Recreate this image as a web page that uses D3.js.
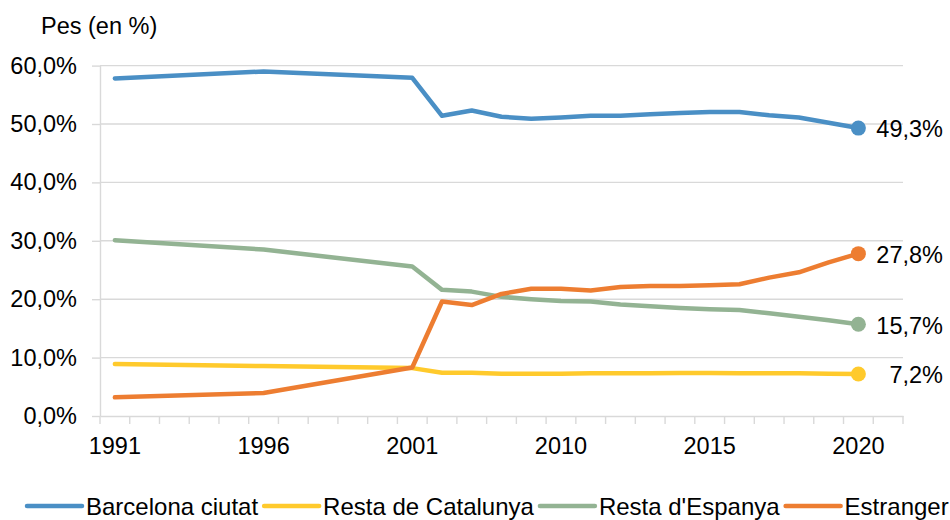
<!DOCTYPE html>
<html><head><meta charset="utf-8">
<script src="https://cdn.jsdelivr.net/npm/d3@7/dist/d3.min.js"></script>
<style>
body{margin:0;background:#fff}
svg text{font-family:"Liberation Sans",Arial,sans-serif;fill:#000}
</style>
</head><body>
<svg id="c" width="950" height="520"></svg>
<script>
const categories = ["1991","1992","1993","1994","1995","1996","1997","1998","1999","2000","2001",
  "2006","2007","2008","2009","2010","2011","2012","2013","2014","2015","2016","2017","2018","2019","2020","2021"];
const tickLabels = ["1991","1996","2001","2010","2015","2020"];
const yTicks = [0,10,20,30,40,50,60];
const seriesNames = ["Barcelona ciutat","Resta de Catalunya","Resta d'Espanya","Estranger"];
const barcelona = [57.8,null,null,null,null,59.0,null,null,null,null,57.9,51.4,52.3,51.25,50.9,51.1,51.4,51.4,51.65,51.9,52.05,52.05,51.5,51.1,50.2,49.3,null];
const catalunya = [8.9,null,null,null,null,8.55,null,null,null,null,8.2,7.4,7.4,7.25,7.25,7.25,7.3,7.3,7.3,7.35,7.35,7.3,7.3,7.3,7.25,7.2,null];
const espanya = [30.1,null,null,null,null,28.5,null,null,null,null,25.6,21.6,21.3,20.4,20.0,19.7,19.6,19.1,18.8,18.5,18.3,18.15,17.6,17.0,16.4,15.7,null];
const estranger = [3.2,null,null,null,null,3.95,null,null,null,null,8.3,19.6,19.0,20.9,21.8,21.8,21.5,22.1,22.25,22.25,22.4,22.55,23.7,24.6,26.3,27.8,null];
const colors = ["#4a8fc5","#ffca2c","#93b393","#ed7d31"];

const seriesVals = [barcelona, catalunya, espanya, estranger];
const svg = d3.select("#c");
const FS = "23.5px";
const gridColor = "#d9d9d9";

const x = d3.scaleBand().domain(categories).range([100,903]).padding(0);
const y = d3.scaleLinear().domain([0,60]).range([416,65.6]);
const fmt = v => d3.format(".1f")(v).replace(".", ",") + "%";

// gridlines
svg.append("g").selectAll("line").data(yTicks.filter(d=>d>0)).join("line")
  .attr("x1",100).attr("x2",903).attr("y1",d=>y(d)).attr("y2",d=>y(d))
  .attr("stroke",gridColor).attr("stroke-width",1.4);

// y axis
const ya = svg.append("g").attr("transform","translate(100,0)")
  .call(d3.axisLeft(y).tickValues(yTicks).tickSize(8).tickSizeOuter(0).tickPadding(15).tickFormat(fmt));
ya.selectAll("path,line").attr("stroke",gridColor).attr("stroke-width",1.4);
ya.selectAll("text").style("font-size",FS).attr("fill","#000").attr("font-family",null);

// x axis
const xa = svg.append("g").attr("transform","translate(0,416)")
  .call(d3.axisBottom(x).tickValues(tickLabels).tickSize(0).tickSizeOuter(0).tickPadding(21));
xa.selectAll("path").attr("stroke",gridColor).attr("stroke-width",1.4);
xa.selectAll("text").style("font-size",FS).attr("fill","#000").attr("font-family",null);
const bounds = categories.map(c=>x(c)).concat([x.range()[1]]);
svg.append("g").selectAll("line").data(bounds).join("line")
  .attr("x1",d=>d).attr("x2",d=>d).attr("y1",416).attr("y2",424)
  .attr("stroke",gridColor).attr("stroke-width",1.4);

// title
svg.append("text").attr("x",41).attr("y",34).style("font-size",FS).text("Pes (en %)");

// lines
const line = d3.line().x(d=>x(d.c)+x.bandwidth()/2).y(d=>y(d.v));
seriesVals.forEach((vals,i)=>{
  const pts = categories.map((c,j)=>({c, v:vals[j]})).filter(d=>d.v!==null);
  svg.append("path").datum(pts).attr("d",line).attr("fill","none")
    .attr("stroke",colors[i]).attr("stroke-width",4.5)
    .attr("stroke-linejoin","round").attr("stroke-linecap","round");
  const last = pts[pts.length-1];
  svg.append("circle").attr("cx",x(last.c)+x.bandwidth()/2).attr("cy",y(last.v))
    .attr("r",7.5).attr("fill",colors[i]);
  svg.append("text").attr("x",943).attr("y",y(last.v)).attr("dy","0.4em")
    .attr("text-anchor","end").style("font-size",FS).text(fmt(last.v));
});

// legend
const lg = svg.append("g");
let lx = 27;
const ly = 506;
seriesNames.forEach((n,i)=>{
  lg.append("line").attr("x1",lx).attr("x2",lx+55).attr("y1",ly).attr("y2",ly)
    .attr("stroke",colors[i]).attr("stroke-width",4.5).attr("stroke-linecap","round");
  const t = lg.append("text").attr("x",lx+59).attr("y",ly).attr("dy","0.36em")
    .style("font-size","24px").text(n);
  lx = lx + 59 + t.node().getComputedTextLength() + 6;
});
</script>
</body></html>
